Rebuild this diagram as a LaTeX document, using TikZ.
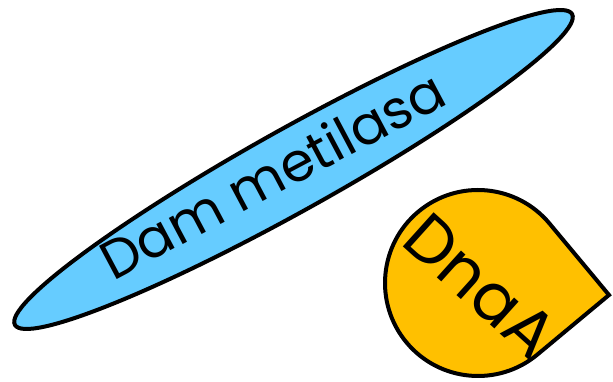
\documentclass[tikz,border=0pt]{standalone}
\usepackage{fontspec}
\setmainfont{Poppins}
\usetikzlibrary{shapes.geometric}
\definecolor{dambl}{HTML}{66CCFF}
\definecolor{dnaor}{HTML}{FFC000}
\begin{document}
\begin{tikzpicture}[x=1pt,y=1pt,
  shapeline/.style={draw=black,line width=4pt},
  lbl/.style={inner sep=0pt,anchor=base west,text=black}]
\useasboundingbox (0,0) rectangle (613,382);
\node[shapeline,fill=dambl,ellipse,inner sep=0pt,minimum width=638pt,minimum height=82pt,rotate=29.15] (dam) at (293.5,212.5) {};
\node[lbl,rotate=28] (damtxt) at (113,100) {\fontsize{54}{58}\selectfont Dam metilasa};
\draw[shapeline,fill=dnaor,line join=miter] (478,99) ++(39.8:93) coordinate (dnastart)
  arc[start angle=39.8,end angle=309.8,radius=93] -- (609,87) coordinate (dnatip) -- cycle;
\node[lbl,rotate=-42] (dnatxt) at (399,139) {\fontsize{66}{70}\selectfont DnaA};
\end{tikzpicture}
\end{document}
